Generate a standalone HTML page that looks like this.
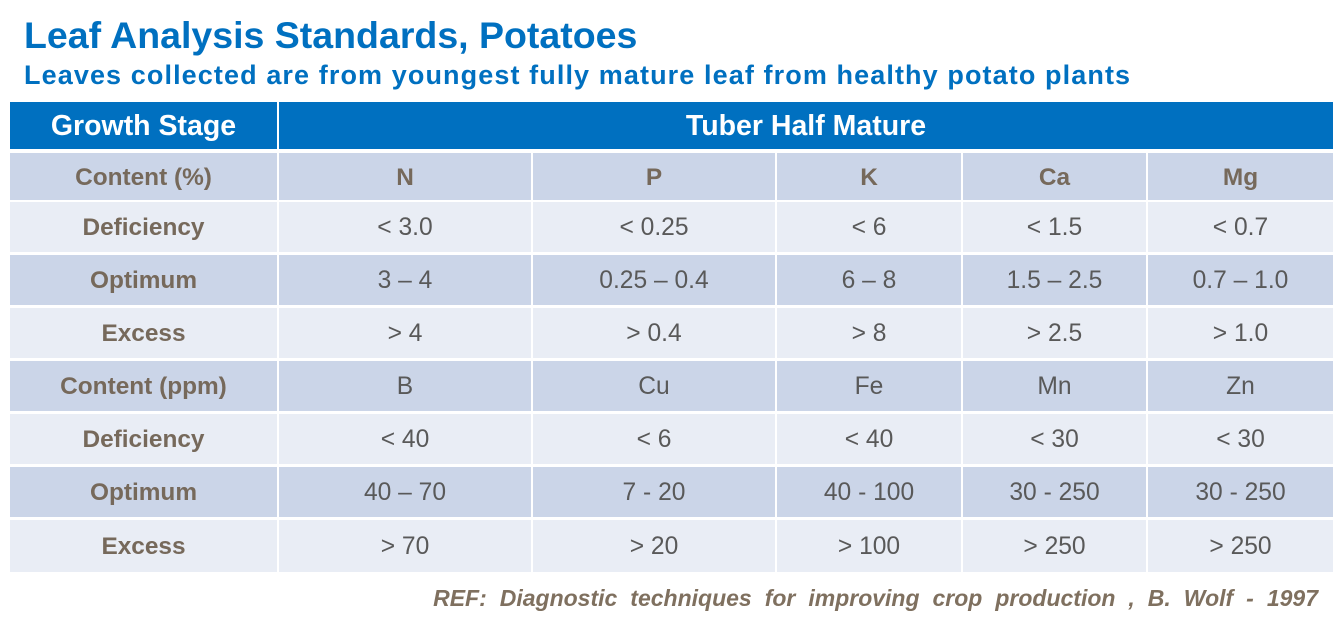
<!DOCTYPE html><html><head><style>
body{margin:0;width:1334px;height:628px;background:#fff;position:relative;overflow:hidden;font-family:"Liberation Sans",Arial,sans-serif}
.t{position:absolute;left:24px;color:#0070c0;font-weight:bold;white-space:nowrap}
.c{position:absolute;display:flex;align-items:center;justify-content:center;font-size:24.6px;color:#595959;box-sizing:border-box;padding-top:2px}
.h{background:#0070c0;color:#fff;font-weight:bold;font-size:28.5px}
.d{background:#cbd5e8}.l{background:#e9edf5}
.b{font-weight:bold;color:#76695b;font-size:24.4px}
</style></head><body>
<div class="t" style="top:14px;font-size:37.5px">Leaf Analysis Standards, Potatoes</div>
<div class="t" style="top:60px;font-size:27px;letter-spacing:1.1px">Leaves collected are from youngest fully mature leaf from healthy potato plants</div>
<div class="c h" style="left:10px;top:102px;width:267px;height:47px">Growth Stage</div>
<div class="c h" style="left:279px;top:102px;width:1054px;height:47px">Tuber Half Mature</div>
<div id="g"></div>
<div style="position:absolute;right:16px;top:585px;font-size:23px;font-style:italic;font-weight:bold;color:#7f705f;word-spacing:6.6px;white-space:nowrap">REF: Diagnostic techniques for improving crop production , B. Wolf - 1997</div>
<script>
var cols=[[10,277],[279,531],[533,775],[777,961],[963,1146],[1148,1333]];
var rows=[[153,200],[202,252],[255,305],[308,358],[361,411],[414,464],[467,517],[520,572]];
var data=[["Content (%)","N","P","K","Ca","Mg"],["Deficiency","< 3.0","< 0.25","< 6","< 1.5","< 0.7"],["Optimum","3 – 4","0.25 – 0.4","6 – 8","1.5 – 2.5","0.7 – 1.0"],["Excess","> 4","> 0.4","> 8","> 2.5","> 1.0"],["Content (ppm)","B","Cu","Fe","Mn","Zn"],["Deficiency","< 40","< 6","< 40","< 30","< 30"],["Optimum","40 – 70","7 - 20","40 - 100","30 - 250","30 - 250"],["Excess","> 70","> 20","> 100","> 250","> 250"]];
var h="";
rows.forEach(function(r,i){cols.forEach(function(c,j){
var cls="c "+(i%2==0?"d":"l")+((j==0||i==0)?" b":"");
h+='<div class="'+cls+'" style="left:'+c[0]+'px;top:'+r[0]+'px;width:'+(c[1]-c[0])+'px;height:'+(r[1]-r[0])+'px">'+data[i][j].replace(/</g,"&lt;")+'</div>';});});
document.getElementById("g").innerHTML=h;
</script>
</body></html>
